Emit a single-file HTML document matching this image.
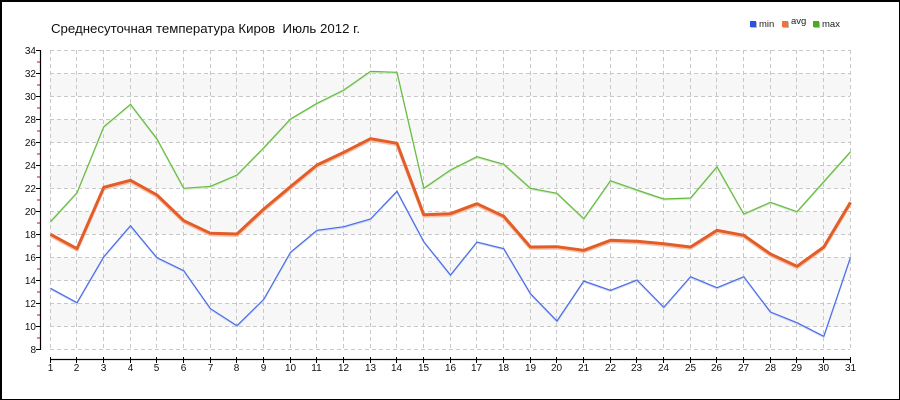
<!DOCTYPE html>
<html>
<head>
<meta charset="utf-8">
<style>
html,body{margin:0;padding:0;background:#fff;}
#wrap{position:relative;width:900px;height:400px;box-sizing:border-box;border-top:2px solid #000;border-left:2px solid #000;border-right:1px solid #000;border-bottom:1px solid #000;overflow:hidden;}
svg{position:absolute;left:-2px;top:-2px;}
text{font-family:"Liberation Sans","DejaVu Sans",sans-serif;}
</style>
</head>
<body>
<div id="wrap">
<svg width="900" height="400" viewBox="0 0 900 400" xmlns="http://www.w3.org/2000/svg">
  <!-- shaded bands -->
  <g fill="#f7f7f7">
    <rect x="50" y="73.5" width="800" height="23"/>
    <rect x="50" y="119.5" width="800" height="23"/>
    <rect x="50" y="165.5" width="800" height="23"/>
    <rect x="50" y="211.5" width="800" height="23"/>
    <rect x="50" y="257.5" width="800" height="23"/>
    <rect x="50" y="303.5" width="800" height="23"/>
  </g>
  <!-- grid -->
  <g stroke="#c8c8c8" stroke-width="1" stroke-dasharray="4,3" fill="none">
    <path d="M50 50.5H850M50 73.5H850M50 96.5H850M50 119.5H850M50 142.5H850M50 165.5H850M50 188.5H850M50 211.5H850M50 234.5H850M50 257.5H850M50 280.5H850M50 303.5H850M50 326.5H850M50 349.5H850"/>
    <path d="M50.5 50V350M76.5 50V350M103.5 50V350M130.5 50V350M156.5 50V350M183.5 50V350M210.5 50V350M236.5 50V350M263.5 50V350M290.5 50V350M316.5 50V350M343.5 50V350M370.5 50V350M396.5 50V350M423.5 50V350M450.5 50V350M476.5 50V350M503.5 50V350M530.5 50V350M556.5 50V350M583.5 50V350M610.5 50V350M636.5 50V350M663.5 50V350M690.5 50V350M716.5 50V350M743.5 50V350M770.5 50V350M796.5 50V350M823.5 50V350M850.5 50V350"/>
  </g>

  <!-- title -->
  <text x="51" y="33" font-size="12.5" fill="#111" textLength="309" lengthAdjust="spacingAndGlyphs">Среднесуточная температура Киров&#160; Июль 2012 г.</text>

  <!-- legend -->
  <rect x="751" y="22" width="6" height="6" fill="#bbb"/>
  <rect x="750" y="21" width="6" height="6" fill="#2a50e6"/>
  <text x="759" y="27" font-size="9.5" fill="#222">min</text>
  <rect x="783" y="22" width="6" height="6" fill="#bbb"/>
  <rect x="782" y="21" width="6" height="6" fill="#ef743c"/>
  <text x="791" y="24" font-size="9.5" fill="#222">avg</text>
  <rect x="814" y="22" width="6" height="6" fill="#bbb"/>
  <rect x="813" y="21" width="6" height="6" fill="#4aaa22"/>
  <text x="822" y="27" font-size="9.5" fill="#222">max</text>

  <!-- y axis -->
  <path d="M40.5 50V350" stroke="#000" stroke-width="1.2"/>
  <g stroke="#000" stroke-width="1">
    <path d="M36 50.5H41M36 73.5H41M36 96.5H41M36 119.5H41M36 142.5H41M36 165.5H41M36 188.5H41M36 211.5H41M36 234.5H41M36 257.5H41M36 280.5H41M36 303.5H41M36 326.5H41M36 349.5H41"/>
  </g>
  <g stroke="#e00000" stroke-width="1">
    <path d="M37 62H40M37 85H40M37 108H40M37 131H40M37 154H40M37 177H40M37 200H40M37 223H40M37 246H40M37 269H40M37 292H40M37 315H40M37 338H40"/>
  </g>
  <g font-size="10" fill="#111" text-anchor="end">
    <text x="36" y="54">34</text>
    <text x="36" y="77">32</text>
    <text x="36" y="100">30</text>
    <text x="36" y="123">28</text>
    <text x="36" y="146">26</text>
    <text x="36" y="169">24</text>
    <text x="36" y="192">22</text>
    <text x="36" y="215">20</text>
    <text x="36" y="238">18</text>
    <text x="36" y="261">16</text>
    <text x="36" y="284">14</text>
    <text x="36" y="307">12</text>
    <text x="36" y="330">10</text>
    <text x="36" y="353">8</text>
  </g>

  <!-- x axis -->
  <path d="M50 359.5H851" stroke="#000" stroke-width="1.2"/>
  <g stroke="#000" stroke-width="1">
    <path d="M50.5 357V363M76.5 357V363M103.5 357V363M130.5 357V363M156.5 357V363M183.5 357V363M210.5 357V363M236.5 357V363M263.5 357V363M290.5 357V363M316.5 357V363M343.5 357V363M370.5 357V363M396.5 357V363M423.5 357V363M450.5 357V363M476.5 357V363M503.5 357V363M530.5 357V363M556.5 357V363M583.5 357V363M610.5 357V363M636.5 357V363M663.5 357V363M690.5 357V363M716.5 357V363M743.5 357V363M770.5 357V363M796.5 357V363M823.5 357V363M850.5 357V363"/>
  </g>
  <g font-size="10" fill="#111" text-anchor="middle">
    <text x="50.5" y="371">1</text>
    <text x="76.5" y="371">2</text>
    <text x="103.5" y="371">3</text>
    <text x="130.5" y="371">4</text>
    <text x="156.5" y="371">5</text>
    <text x="183.5" y="371">6</text>
    <text x="210.5" y="371">7</text>
    <text x="236.5" y="371">8</text>
    <text x="263.5" y="371">9</text>
    <text x="290.5" y="371">10</text>
    <text x="316.5" y="371">11</text>
    <text x="343.5" y="371">12</text>
    <text x="370.5" y="371">13</text>
    <text x="396.5" y="371">14</text>
    <text x="423.5" y="371">15</text>
    <text x="450.5" y="371">16</text>
    <text x="476.5" y="371">17</text>
    <text x="503.5" y="371">18</text>
    <text x="530.5" y="371">19</text>
    <text x="556.5" y="371">20</text>
    <text x="583.5" y="371">21</text>
    <text x="610.5" y="371">22</text>
    <text x="636.5" y="371">23</text>
    <text x="663.5" y="371">24</text>
    <text x="690.5" y="371">25</text>
    <text x="716.5" y="371">26</text>
    <text x="743.5" y="371">27</text>
    <text x="770.5" y="371">28</text>
    <text x="796.5" y="371">29</text>
    <text x="823.5" y="371">30</text>
    <text x="850.5" y="371">31</text>
  </g>

  <!-- max (green) -->
  <polyline fill="none" stroke="#cfe8c2" stroke-width="1.3" transform="translate(0,1)"
    points="50.5,221.7 77,192.7 103.8,126.7 130.5,104.3 157,139 183.8,188.3 210.5,186.3 237,175 263.8,147.7 290.5,119 317,103.3 343.8,90 370.5,71.3 397,72.3 423.8,188.3 450.5,170 477,156.7 503.8,164.3 530.5,188.3 557,193.3 583.8,218.7 610.5,180.7 637,190 663.8,199 690.5,198 717,166.7 743.8,214 770.5,202.3 797,211.7 823.8,181.7 850.5,151.7"/>
  <polyline fill="none" stroke="#66bb40" stroke-width="1.2"
    points="50.5,221.7 77,192.7 103.8,126.7 130.5,104.3 157,139 183.8,188.3 210.5,186.3 237,175 263.8,147.7 290.5,119 317,103.3 343.8,90 370.5,71.3 397,72.3 423.8,188.3 450.5,170 477,156.7 503.8,164.3 530.5,188.3 557,193.3 583.8,218.7 610.5,180.7 637,190 663.8,199 690.5,198 717,166.7 743.8,214 770.5,202.3 797,211.7 823.8,181.7 850.5,151.7"/>

  <!-- avg (orange) -->
  <polyline fill="none" stroke="#f6c2aa" stroke-width="3" stroke-linejoin="round" transform="translate(0,1.5)"
    points="50.5,234.3 77,248.7 103.8,187.3 130.5,180.3 157,195 183.8,220.7 210.5,233.3 237,234 263.8,209 290.5,186.7 317,165 343.8,152.3 370.5,138.7 397,143.3 423.8,214.7 450.5,213.7 477,203.7 503.8,216.3 530.5,247 557,246.7 583.8,250.3 610.5,240.3 637,241.3 663.8,243.7 690.5,247 717,230.3 743.8,235.3 770.5,254 797,266.3 823.8,247 850.5,202.3"/>
  <polyline fill="none" stroke="#e35d28" stroke-width="3" stroke-linejoin="round"
    points="50.5,234.3 77,248.7 103.8,187.3 130.5,180.3 157,195 183.8,220.7 210.5,233.3 237,234 263.8,209 290.5,186.7 317,165 343.8,152.3 370.5,138.7 397,143.3 423.8,214.7 450.5,213.7 477,203.7 503.8,216.3 530.5,247 557,246.7 583.8,250.3 610.5,240.3 637,241.3 663.8,243.7 690.5,247 717,230.3 743.8,235.3 770.5,254 797,266.3 823.8,247 850.5,202.3"/>

  <!-- min (blue) -->
  <polyline fill="none" stroke="#cdd6f6" stroke-width="1.3" transform="translate(0,1)"
    points="50.5,288.3 77,302.7 103.8,256.7 130.5,225.7 157,257.7 183.8,270.7 210.5,308.7 237,325.7 263.8,299.3 290.5,252.3 317,230.3 343.8,226.7 370.5,219 397,191.3 423.8,241.7 450.5,275 477,242 503.8,248.7 530.5,293.7 557,321 583.8,281 610.5,290.3 637,280 663.8,307.3 690.5,276.7 717,287.7 743.8,276.7 770.5,312 797,322.7 823.8,336.3 850.5,257.3"/>
  <polyline fill="none" stroke="#4a6de4" stroke-width="1.2"
    points="50.5,288.3 77,302.7 103.8,256.7 130.5,225.7 157,257.7 183.8,270.7 210.5,308.7 237,325.7 263.8,299.3 290.5,252.3 317,230.3 343.8,226.7 370.5,219 397,191.3 423.8,241.7 450.5,275 477,242 503.8,248.7 530.5,293.7 557,321 583.8,281 610.5,290.3 637,280 663.8,307.3 690.5,276.7 717,287.7 743.8,276.7 770.5,312 797,322.7 823.8,336.3 850.5,257.3"/>
</svg>
</div>
</body>
</html>
